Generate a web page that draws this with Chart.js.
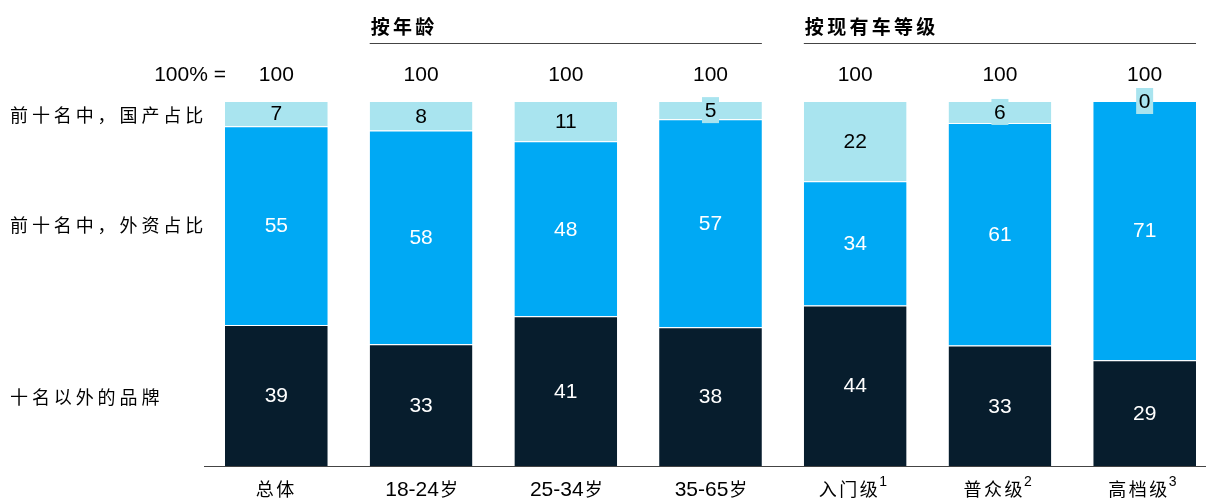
<!DOCTYPE html>
<html>
<head>
<meta charset="utf-8">
<script src="https://cdn.jsdelivr.net/npm/chart.js@4/dist/chart.umd.min.js"></script>
<style>
  html, body { margin: 0; padding: 0; background: #fff; overflow: hidden; }
  #wrap { width: 1206px; height: 499px; overflow: hidden; }
  #box { width: 1220px; height: 499px; }
</style>
</head>
<body>
<div id="wrap"><div id="box"><canvas id="c"></canvas></div></div>
<script>
const categories = ['总体', '18-24岁', '25-34岁', '35-65岁', '入门级', '普众级', '高档级']
const superscripts = ['', '', '', '', '1', '2', '3']
const totals = [100, 100, 100, 100, 100, 100, 100]
const otherBrands = [39, 33, 41, 38, 44, 33, 29]
const foreignTop10 = [55, 58, 48, 57, 34, 61, 71]
const domesticTop10 = [7, 8, 11, 5, 22, 6, 0]
const seriesNames = ['十名以外的品牌', '前十名中，外资占比', '前十名中，国产占比']
const groups = [
  { label: '按年龄', from: 1, to: 3 },
  { label: '按现有车等级', from: 4, to: 6 },
]

const DARK = '#071d2d'
const BLUE = '#00a9f4'
const LIGHT = '#a9e4ef'
const NUM_FONT = '"Liberation Sans", Arial, sans-serif'
const CJK_FONT = '"Noto Sans CJK SC", sans-serif'

const sums = categories.map((_, i) => otherBrands[i] + foreignTop10[i] + domesticTop10[i])
const share = (arr) => arr.map((v, i) => v / sums[i] * 100)
const raw = [otherBrands, foreignTop10, domesticTop10]

function makeSet(label, arr, color) {
  return {
    label,
    data: share(arr),
    backgroundColor: color,
    borderColor: '#ffffff',
    borderWidth: { top: 1, bottom: 0, left: 0, right: 0 },
    borderSkipped: false,
    barPercentage: 0.71,
    categoryPercentage: 1,
  }
}

function spacedText(ctx, text, x, y, spacing) {
  ctx.letterSpacing = spacing + 'px'
  ctx.fillText(text, x, y)
  ctx.letterSpacing = '0px'
}

const decor = {
  id: 'decor',
  afterDatasetsDraw(chart) {
    const ctx = chart.ctx
    const xs = chart.scales.x
    const area = chart.chartArea
    ctx.save()

    // segment labels
    chart.data.datasets.forEach((ds, di) => {
      const meta = chart.getDatasetMeta(di)
      meta.data.forEach((bar, i) => {
        const v = raw[di][i]
        const cy = (bar.y + bar.base) / 2
        ctx.font = '21px ' + NUM_FONT
        ctx.textAlign = 'center'
        ctx.textBaseline = 'middle'
        if (di === 2 && v < 7) {
          ctx.fillStyle = LIGHT
          ctx.fillRect(bar.x - 8.5, cy - 13, 17, 26)
        }
        ctx.fillStyle = di === 2 ? '#000' : '#fff'
        ctx.fillText(String(v), bar.x, cy + 1)
      })
    })

    // axis line
    ctx.strokeStyle = '#444'
    ctx.lineWidth = 1
    ctx.beginPath()
    ctx.moveTo(204, area.bottom + 0.5)
    ctx.lineTo(1206, area.bottom + 0.5)
    ctx.stroke()

    // totals row
    ctx.fillStyle = '#000'
    ctx.font = '21px ' + NUM_FONT
    ctx.textAlign = 'right'
    ctx.textBaseline = 'middle'
    ctx.fillText('100% =', 226, 75)
    ctx.textAlign = 'center'
    totals.forEach((t, i) => ctx.fillText(String(t), xs.getPixelForValue(i), 75))

    // category labels
    categories.forEach((c, i) => {
      const cx = xs.getPixelForValue(i)
      const m = c.match(/^([0-9\-]*)(.*)$/)
      const digits = m[1]
      const cjk = m[2]
      ctx.textAlign = 'left'
      ctx.textBaseline = 'middle'
      ctx.font = '21px ' + NUM_FONT
      const wd = ctx.measureText(digits).width
      ctx.font = '18px ' + CJK_FONT
      ctx.letterSpacing = digits ? '0px' : '2.5px'
      const wc = ctx.measureText(cjk).width
      ctx.font = '14px ' + NUM_FONT
      const ws = superscripts[i] ? ctx.measureText(superscripts[i]).width + 1 : 0
      let x = cx - (wd + wc + ws) / 2
      ctx.font = '21px ' + NUM_FONT
      ctx.letterSpacing = '0px'
      ctx.fillText(digits, x, 490)
      x += wd + (digits ? 1 : 0)
      ctx.font = '18px ' + CJK_FONT
      spacedText(ctx, cjk, x, 489, digits ? 0 : 2.5)
      x += wc
      if (superscripts[i]) {
        ctx.font = '14px ' + NUM_FONT
        ctx.fillText(superscripts[i], x - 1, 482)
      }
    })

    // series labels on the left
    ctx.font = '18px ' + CJK_FONT
    ctx.textAlign = 'left'
    ctx.fillStyle = '#000'
    const ys = [397, 225, 115]
    seriesNames.forEach((s, i) => spacedText(ctx, s, 10, ys[i], 3.9))

    // group headers
    const half = xs.getPixelForValue(1) - xs.getPixelForValue(0)
    groups.forEach((g) => {
      const x0 = xs.getPixelForValue(g.from) - half * 0.355
      const x1 = xs.getPixelForValue(g.to) + half * 0.355
      ctx.strokeStyle = '#444'
      ctx.lineWidth = 1
      ctx.beginPath()
      ctx.moveTo(x0, 43.5)
      ctx.lineTo(x1, 43.5)
      ctx.stroke()
      ctx.font = 'bold 19px ' + CJK_FONT
      ctx.fillStyle = '#000'
      ctx.textAlign = 'left'
      spacedText(ctx, g.label, x0 + 1, 27, 3.3)
    })

    ctx.restore()
  },
}

new Chart(document.getElementById('c'), {
  type: 'bar',
  data: {
    labels: categories,
    datasets: [
      makeSet(seriesNames[0], otherBrands, DARK),
      makeSet(seriesNames[1], foreignTop10, BLUE),
      makeSet(seriesNames[2], domesticTop10, LIGHT),
    ],
  },
  options: {
    responsive: true,
    maintainAspectRatio: false,
    animation: false,
    layout: { padding: { left: 204, right: 3, top: 101, bottom: 33 } },
    plugins: { legend: { display: false }, tooltip: { enabled: false } },
    scales: {
      x: { stacked: true, display: false },
      y: { stacked: true, display: false, min: 0, max: 100 },
    },
  },
  plugins: [decor],
})
</script>
</body>
</html>
